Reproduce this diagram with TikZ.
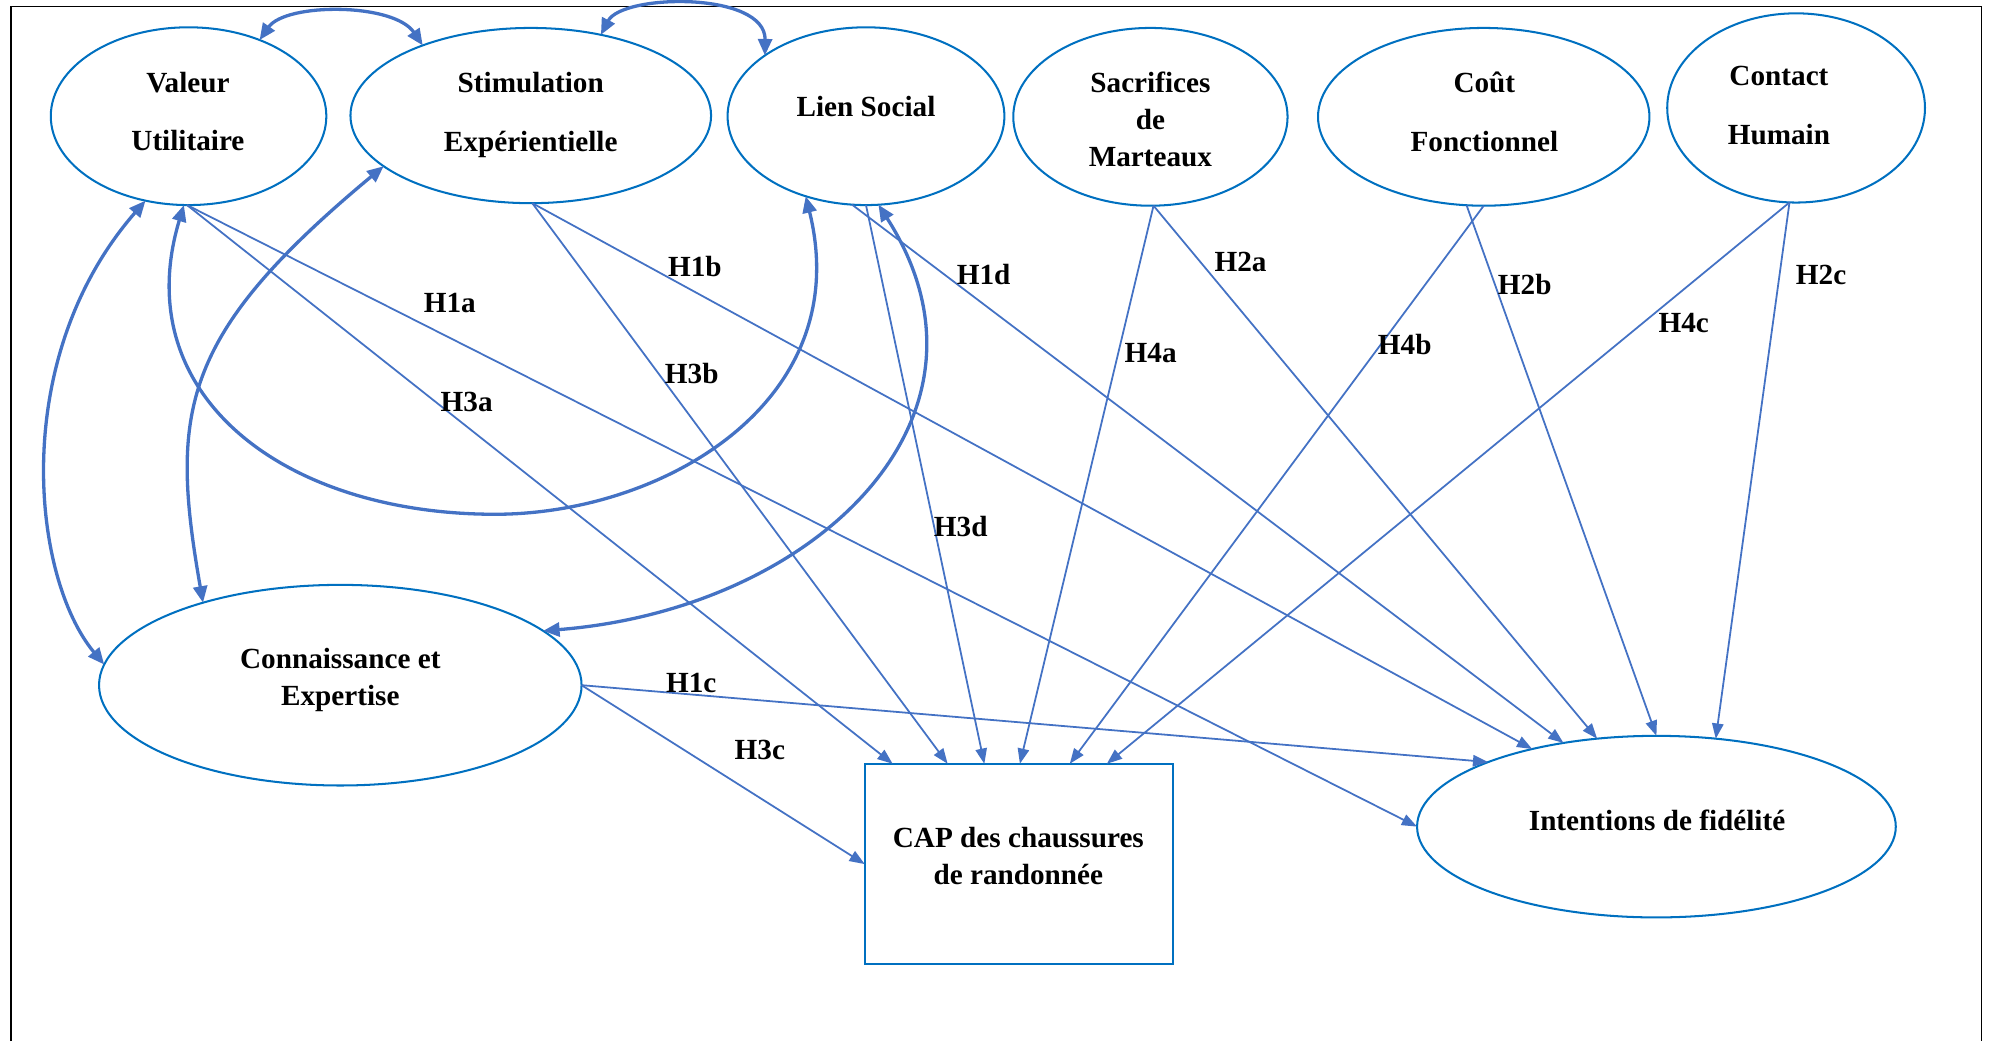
\documentclass[tikz,border=0pt]{standalone}
\usepackage{fontspec}
\setmainfont{Liberation Serif}
\usetikzlibrary{arrows.meta,shapes.geometric}
\definecolor{ellblue}{HTML}{0070C0}
\definecolor{arrblue}{HTML}{4472C4}
\begin{document}
\begin{tikzpicture}[x=1pt,y=-1pt,
  ell/.style={ellipse, draw=ellblue, line width=1.6pt, inner sep=0pt, outer sep=0pt},
  txtw/.style={align=center, font=\fontsize{23}{46}\selectfont\bfseries, inner sep=0pt},
  txtn/.style={align=center, font=\fontsize{23}{29.5}\selectfont\bfseries, inner sep=0pt},
  lab/.style={font=\fontsize{23}{27}\selectfont\bfseries, inner sep=0pt},
  conn/.style={draw=arrblue, line width=1.4pt, -{Triangle[length=12pt,width=9pt]}},
  corr/.style={draw=arrblue, line width=2.6pt, {Triangle[length=13pt,width=11pt]}-{Triangle[length=13pt,width=11pt]}},
]
\useasboundingbox (0,0) rectangle (1568,820);
% frame
\draw[line width=1.2pt] (8.5,820) -- (8.5,5) -- (1560.5,5) -- (1560.5,820);

% shapes
\node[ell, minimum width=217pt, minimum height=140pt] (vu) at (148.5,91.5) {};
\node[ell, minimum width=284pt, minimum height=138pt] (se) at (418,91) {};
\node[ell, minimum width=218pt, minimum height=140pt] (ls) at (682,91.5) {};
\node[ell, minimum width=216pt, minimum height=140pt] (sm) at (906,92) {};
\node[ell, minimum width=261pt, minimum height=140pt] (cf) at (1168.5,92) {};
\node[ell, minimum width=203pt, minimum height=149pt] (ch) at (1414.5,85) {};
\node[ell, minimum width=380pt, minimum height=158pt] (ce) at (268,539.6) {};
\node[ell, minimum width=377pt, minimum height=143pt] (inf) at (1304.5,651) {};
\node[draw=ellblue, line width=1.6pt, minimum width=242.5pt, minimum height=158pt, inner sep=0pt, outer sep=0pt] (cap) at (802.25,680.5) {};

% texts
\node[txtw] (vu-t) at (148,88) {Valeur\\Utilitaire};
\node[txtw] (se-t) at (418,90.5) {Stimulation\\Expérientielle};
\node[txtw] (ls-t) at (682,84) {Lien Social};
\node[txtn] (sm-t) at (906,94) {Sacrifices\\de\\Marteaux};
\node[txtw] (cf-t) at (1169,88) {Coût\\Fonctionnel};
\node[txtw] (ch-t) at (1401,83) {Contact\\Humain};
\node[txtn] (ce-t) at (268,535.5) {Connaissance et\\Expertise};
\node[txtn] (cap-t) at (802,674) {CAP des chaussures\\de randonnée};
\node[txtw] (inf-t) at (1305,646) {Intentions de fidélité};

% correlations
\coordinate (loopbottom) at (390,405);
\draw[corr] (vu.47.1) .. controls (225,2) and (310,2) .. (se.147.6);
\draw[corr] (se.49.8) .. controls (490,-5) and (603,-7) .. (ls.149.4);
\draw[corr] (vu.243.5) .. controls (6.5,282) and (25,455) .. (ce.175.5);
\draw[corr] (se.199) .. controls (142,264) and (133.5,324) .. (ce.149.6);
\draw[corr] (vu.267.7) .. controls (100,310) and (222,405) .. (loopbottom) .. controls (522,405) and (674.6,316.2) .. (ls.233.8);
\draw[corr] (ls.278) .. controls (800,330) and (640,480) .. (ce.15.2);

% hypotheses
\draw[conn] (vu.269) -- (inf.180);
\draw[conn] (vu.269) -- ([xshift=22pt]cap.north west);
\draw[conn] (se.271) -- (inf.148.1);
\draw[conn] (se.271) -- ([xshift=65.3pt]cap.north west);
\draw[conn] (ls.261.1) -- (inf.138.1);
\draw[conn] (ls.270.6) -- ([xshift=94.2pt]cap.north west);
\draw[conn] (sm.272.4) -- ([xshift=122.2pt]cap.north west);
\draw[conn] (sm.272.4) -- (inf.124.5);
\draw[conn] (cf.270) -- ([xshift=161.5pt]cap.north west);
\draw[conn] (cf.259.7) -- (inf.90);
\draw[conn] (ch.266) -- ([xshift=190.7pt]cap.north west);
\draw[conn] (ch.266) -- (inf.56.6);
\draw[conn] (ce.0) -- (inf.159.9);
\draw[conn] (ce.0) -- (cap.west);

% labels
\node[lab] (h1a) at (354.3,238.8) {H1a};
\node[lab] (h3a) at (367.5,316.3) {H3a};
\node[lab] (h1b) at (547.2,210) {H1b};
\node[lab] (h3b) at (544.8,294) {H3b};
\node[lab] (h1d) at (774.7,216) {H1d};
\node[lab] (h3d) at (756.6,414.7) {H3d};
\node[lab] (h1c) at (544.4,538) {H1c};
\node[lab] (h3c) at (598.4,591) {H3c};
\node[lab] (h2a) at (977,206.7) {H2a};
\node[lab] (h2b) at (1200.8,223.8) {H2b};
\node[lab] (h2c) at (1434.2,216.9) {H2c};
\node[lab] (h4a) at (906.2,277.7) {H4a};
\node[lab] (h4b) at (1106.3,271.3) {H4b};
\node[lab] (h4c) at (1326,254.2) {H4c};
\end{tikzpicture}
\end{document}
